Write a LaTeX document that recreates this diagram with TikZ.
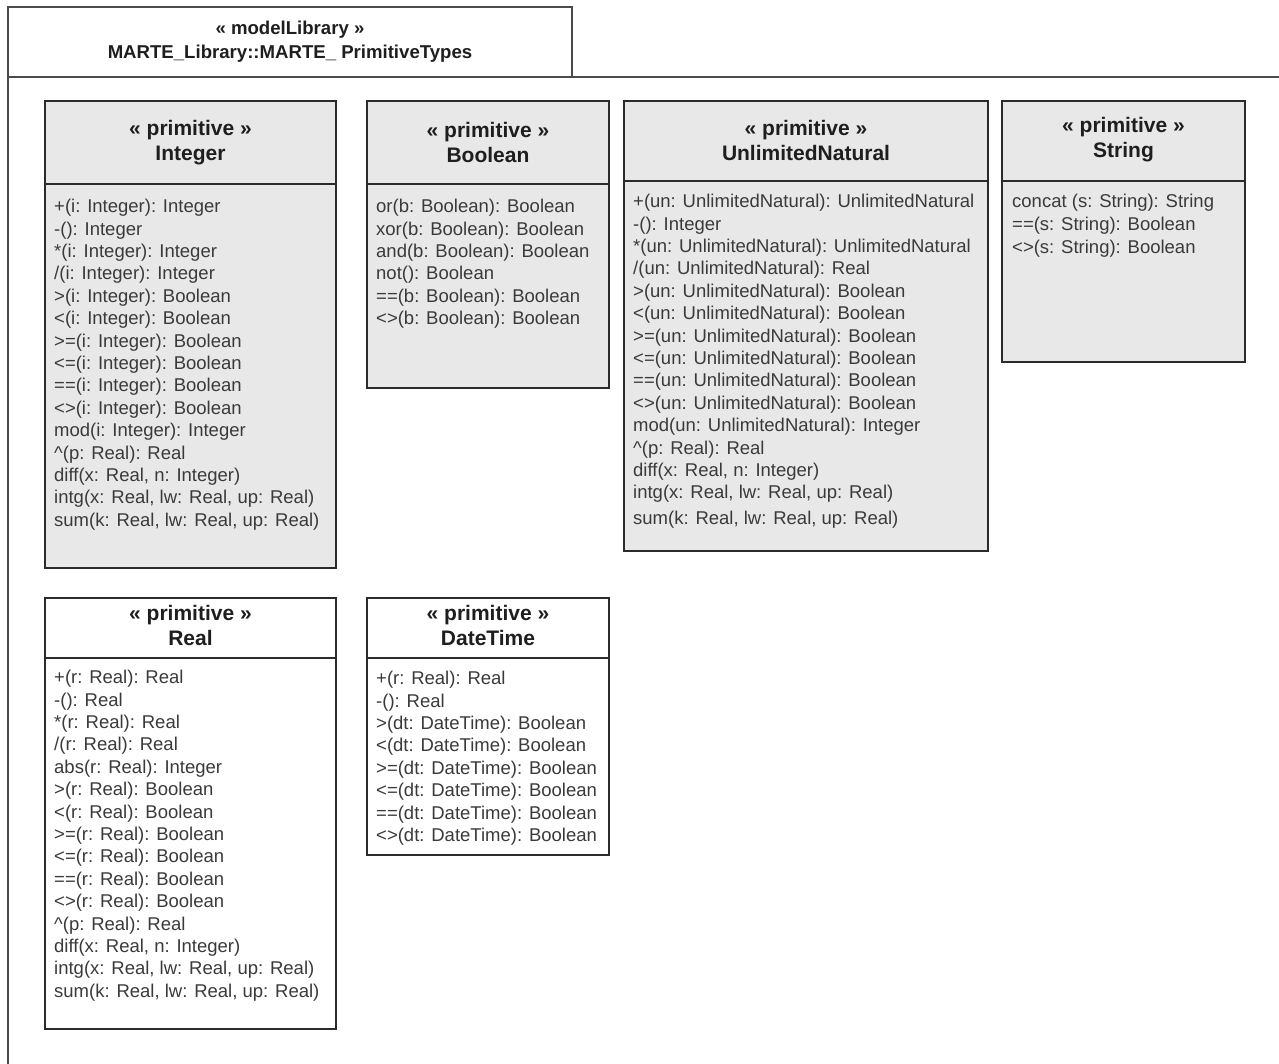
\documentclass[tikz,border=0pt]{standalone}
\usepackage{fontspec}
\setmainfont{Liberation Sans}
\usetikzlibrary{positioning, shadows}
\definecolor{primgrey}{HTML}{E8E8E8}
\definecolor{boxline}{HTML}{2B2B2B}
\definecolor{headtext}{HTML}{1E1E1E}
\definecolor{optext}{HTML}{3A3A3A}

\begin{document}
\begin{tikzpicture}[
  pkg/.style={draw=boxline!85, line width=1.5pt},
  typebox/.style={draw=boxline, line width=1.6pt, fill=#1, inner sep=0pt, outer sep=0pt,
                  drop shadow={shadow xshift=1.4pt, shadow yshift=-1.4pt, fill=black!40, opacity=0.8}},
  prim/.style={typebox=primgrey},
  plain/.style={typebox=white},
  sep/.style={draw=boxline, line width=1.6pt},
  head/.style={font=\fontsize{21}{25}\selectfont\bfseries, text=headtext,
               align=center, inner sep=0pt},
  ops/.style={font=\fontsize{18.5}{22.4}\selectfont, text=optext,
              align=left, inner sep=0pt, anchor=north west}
]
\useasboundingbox (0,0) rectangle (1279pt,-1063pt);

% Package frame
\node[pkg, minimum width=564pt, minimum height=70pt, anchor=north west, inner sep=0pt, outer sep=0pt,
      font=\fontsize{18.6}{24}\selectfont\bfseries, text=headtext, align=center]
  (pkgtab) at (8pt,-7pt) {« modelLibrary »\\MARTE\_Library::MARTE\_ PrimitiveTypes};
\draw[pkg] (pkgtab.south west) -- ++(1300pt,0);
\draw[pkg] (pkgtab.south west) -- ++(0,-1000pt);

% Boxes, first row
\node[prim, minimum width=291pt, minimum height=467pt, anchor=north west] (intbox) at (45pt,-101pt) {};
\node[prim, minimum width=242pt, minimum height=287pt, right=31pt of intbox.north east, anchor=north west] (boolbox) {};
\node[prim, minimum width=364pt, minimum height=450pt, right=15pt of boolbox.north east, anchor=north west] (unbox) {};
\node[prim, minimum width=243pt, minimum height=261pt, right=14pt of unbox.north east, anchor=north west] (strbox) {};

% Boxes, second row
\node[plain, minimum width=291pt, minimum height=431pt, below=30pt of intbox.south west, anchor=north west] (realbox) {};
\node[plain, minimum width=242pt, minimum height=257pt, right=31pt of realbox.north east, anchor=north west] (dtbox) {};

% Header lines
\draw[sep] ([yshift=-83pt]intbox.north west) -- ([yshift=-83pt]intbox.north east);
\draw[sep] ([yshift=-83pt]boolbox.north west) -- ([yshift=-83pt]boolbox.north east);
\draw[sep] ([yshift=-80pt]unbox.north west) -- ([yshift=-80pt]unbox.north east);
\draw[sep] ([yshift=-80pt]strbox.north west) -- ([yshift=-80pt]strbox.north east);
\draw[sep] ([yshift=-60pt]realbox.north west) -- ([yshift=-60pt]realbox.north east);
\draw[sep] ([yshift=-60pt]dtbox.north west) -- ([yshift=-60pt]dtbox.north east);

% Headers
\node[head] (inthead) at ([yshift=-41.5pt]intbox.north) {« primitive »\\Integer};
\node[head] (boolhead) at ([yshift=-41pt]boolbox.north) {« primitive »\\Boolean};
\node[head] (unhead) at ([yshift=-39pt]unbox.north) {« primitive »\\UnlimitedNatural};
\node[head] (strhead) at ([yshift=-38.5pt]strbox.north) {« primitive »\\String};
\node[head] (realhead) at ([yshift=-27.5pt]realbox.north) {« primitive »\\Real};
\node[head] (dthead) at ([yshift=-27.5pt]dtbox.north) {« primitive »\\DateTime};

% Operations
\node[ops] (intops) at ([shift={(9pt,-98pt)}]intbox.north west) {%
  +(i: Integer): Integer\\
  -(): Integer\\
  {}*(i: Integer): Integer\\
  /(i: Integer): Integer\\
  >(i: Integer): Boolean\\
  <(i: Integer): Boolean\\
  >=(i: Integer): Boolean\\
  <=(i: Integer): Boolean\\
  ==(i: Integer): Boolean\\
  <>(i: Integer): Boolean\\
  mod(i: Integer): Integer\\
  \textasciicircum(p: Real): Real\\
  diff(x: Real, n: Integer)\\
  intg(x: Real, lw: Real, up: Real)\\
  sum(k: Real, lw: Real, up: Real)};
\node[ops] (boolops) at ([shift={(9pt,-98pt)}]boolbox.north west) {%
  or(b: Boolean): Boolean\\
  xor(b: Boolean): Boolean\\
  and(b: Boolean): Boolean\\
  not(): Boolean\\
  ==(b: Boolean): Boolean\\
  <>(b: Boolean): Boolean};
\node[ops] (unops) at ([shift={(9pt,-93pt)}]unbox.north west) {%
  +(un: UnlimitedNatural): UnlimitedNatural\\
  -(): Integer\\
  {}*(un: UnlimitedNatural): UnlimitedNatural\\
  /(un: UnlimitedNatural): Real\\
  >(un: UnlimitedNatural): Boolean\\
  <(un: UnlimitedNatural): Boolean\\
  >=(un: UnlimitedNatural): Boolean\\
  <=(un: UnlimitedNatural): Boolean\\
  ==(un: UnlimitedNatural): Boolean\\
  <>(un: UnlimitedNatural): Boolean\\
  mod(un: UnlimitedNatural): Integer\\
  \textasciicircum(p: Real): Real\\
  diff(x: Real, n: Integer)\\
  intg(x: Real, lw: Real, up: Real)\\[3pt]
  sum(k: Real, lw: Real, up: Real)};
\node[ops] (strops) at ([shift={(10pt,-93pt)}]strbox.north west) {%
  concat (s: String): String\\
  ==(s: String): Boolean\\[1.5pt]
  <>(s: String): Boolean};
\node[ops] (realops) at ([shift={(9pt,-72pt)}]realbox.north west) {%
  +(r: Real): Real\\
  -(): Real\\
  {}*(r: Real): Real\\
  /(r: Real): Real\\
  abs(r: Real): Integer\\
  >(r: Real): Boolean\\
  <(r: Real): Boolean\\
  >=(r: Real): Boolean\\
  <=(r: Real): Boolean\\
  ==(r: Real): Boolean\\
  <>(r: Real): Boolean\\
  \textasciicircum(p: Real): Real\\
  diff(x: Real, n: Integer)\\
  intg(x: Real, lw: Real, up: Real)\\
  sum(k: Real, lw: Real, up: Real)};
\node[ops] (dtops) at ([shift={(9pt,-73pt)}]dtbox.north west) {%
  +(r: Real): Real\\
  -(): Real\\
  >(dt: DateTime): Boolean\\
  <(dt: DateTime): Boolean\\
  >=(dt: DateTime): Boolean\\
  <=(dt: DateTime): Boolean\\
  ==(dt: DateTime): Boolean\\
  <>(dt: DateTime): Boolean};

\end{tikzpicture}
\end{document}
